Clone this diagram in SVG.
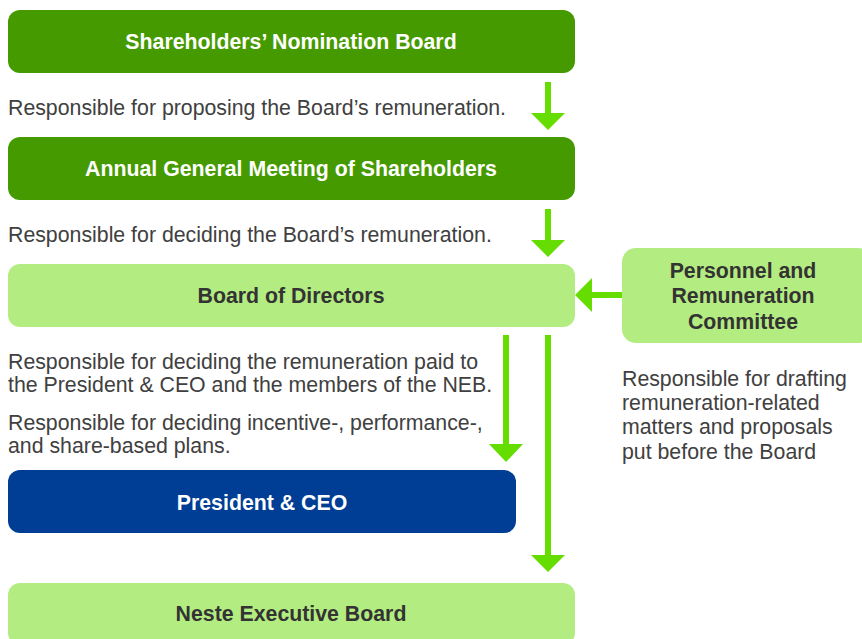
<svg xmlns="http://www.w3.org/2000/svg" width="862" height="639" viewBox="0 0 862 639">
<style>
.dk{fill:#459a00}
.lt{fill:#b3ec80}
.bl{fill:#003d94}
.tw{font-family:"Liberation Sans",Arial,sans-serif;font-size:21.3px;font-weight:bold;fill:#ffffff;text-anchor:middle}
.tb{font-family:"Liberation Sans",Arial,sans-serif;font-size:21.3px;font-weight:bold;fill:#333333;text-anchor:middle}
.d{font-family:"Liberation Sans",Arial,sans-serif;font-size:21.3px;fill:#404040}
.ar{fill:#66dd00}
</style>
<rect width="862" height="639" fill="#ffffff"/>
<g id="shareholders-nomination-board">
<rect class="dk" x="8" y="10" width="567" height="63" rx="12"/>
<text class="tw" x="291" y="49">Shareholders’ Nomination Board</text>
</g>
<g id="agm">
<rect class="dk" x="8" y="137" width="567" height="63" rx="12"/>
<text class="tw" x="291" y="176">Annual General Meeting of Shareholders</text>
</g>
<g id="board-of-directors">
<rect class="lt" x="8" y="264" width="567" height="63" rx="12"/>
<text class="tb" x="291" y="303">Board of Directors</text>
</g>
<g id="personnel-committee">
<rect class="lt" x="622" y="248" width="250" height="95" rx="14"/>
<text class="tb" x="743" y="278">Personnel and</text>
<text class="tb" x="743" y="303">Remuneration</text>
<text class="tb" x="743" y="329">Committee</text>
</g>
<g id="president-ceo">
<rect class="bl" x="8" y="470" width="508" height="63" rx="12"/>
<text class="tw" x="262" y="510">President &amp; CEO</text>
</g>
<g id="neste-executive-board">
<rect class="lt" x="8" y="583" width="567" height="62" rx="12"/>
<text class="tb" x="291" y="621">Neste Executive Board</text>
</g>
<g id="labels">
<text class="d" x="8" y="115">Responsible for proposing the Board’s remuneration.</text>
<text class="d" x="8" y="242">Responsible for deciding the Board’s remuneration.</text>
<text class="d" x="8" y="369">Responsible for deciding the remuneration paid to</text>
<text class="d" x="8" y="392">the President &amp; CEO and the members of the NEB.</text>
<text class="d" x="8" y="430">Responsible for deciding incentive-, performance-,</text>
<text class="d" x="8" y="453">and share-based plans.</text>
<text class="d" x="622" y="386">Responsible for drafting</text>
<text class="d" x="622" y="410">remuneration-related</text>
<text class="d" x="622" y="434">matters and proposals</text>
<text class="d" x="622" y="459">put before the Board</text>
</g>
<g id="connectors">
<polygon class="ar" points="545,82 551,82 551,113 565,113 548,130 531,113 545,113"/>
<polygon class="ar" points="545,209 551,209 551,240 565,240 548,257 531,240 545,240"/>
<polygon class="ar" points="622,292 622,298 592,298 592,312 575,295 592,278 592,292"/>
<polygon class="ar" points="503,335 509,335 509,444 523,444 506,462 489,444 503,444"/>
<polygon class="ar" points="545,335 551,335 551,555 565,555 548,572 531,555 545,555"/>
</g>
</svg>
